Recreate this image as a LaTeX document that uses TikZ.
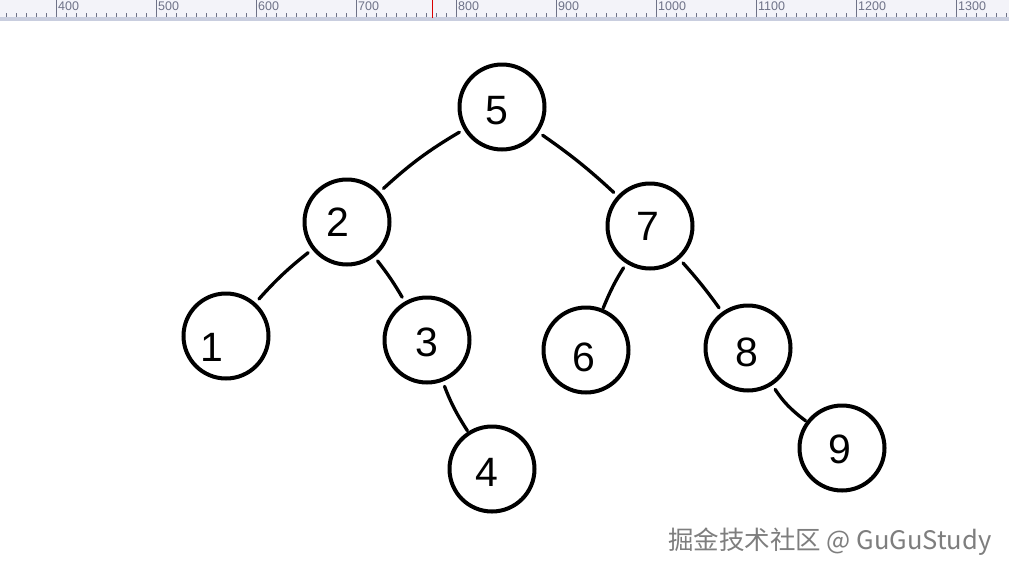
\documentclass[tikz,border=0pt]{standalone}
\usepackage{fontspec}
\setmainfont{Liberation Sans}
\newfontfamily\cjkfont{Noto Sans CJK SC}
\usetikzlibrary{calc}

\definecolor{rulerbg}{HTML}{F3F3F9}
\definecolor{rulerband}{HTML}{C9CEDF}
\definecolor{rulertick}{HTML}{6E7288}
\definecolor{marktxt}{HTML}{7E7E7E}

\begin{document}
\begin{tikzpicture}[x=1pt, y=-1pt,
	vtx/.style={draw, circle, line width=4pt, minimum size=85pt, inner sep=0pt},
	num/.style={font=\fontsize{41}{41}\selectfont},
	link/.style={line width=3.3pt, line cap=round, shorten <=5pt, shorten >=5pt},
	tick/.style={draw=rulertick, line width=0.8pt}]
	\useasboundingbox (0,0) rectangle (1009,574);
	\fill[white] (0,0) rectangle (1009,574);
	% ruler at the top
	\fill[rulerbg] (0,0) rectangle (1009,17);
	\fill[rulerband] (0,17) rectangle (1009,21);
	\foreach \i in {0,...,100}
		\draw[tick] (6+10*\i,13) -- (6+10*\i,17);
	\foreach \v [count=\k from 0] in {400,500,...,1300} {
		\draw[tick] (56+100*\k,0) -- (56+100*\k,17);
		\node[anchor=west, inner sep=1pt, text=rulertick, font=\fontsize{12.5}{12.5}\selectfont] at (57+100*\k,6) {\v};
	}
	\draw[red!85!black, line width=1pt] (432,0) -- (432,18);
	% tree nodes
	\node[vtx, label={[num, xshift=-5pt, yshift=-4pt]center:5}] (n5) at (502,107) {};
	\node[vtx, label={[num, xshift=-9pt]center:2}] (n2) at (347,222) {};
	\node[vtx, label={[num, xshift=-2pt]center:7}] (n7) at (650,226) {};
	\node[vtx, label={[num, xshift=-14pt, yshift=-11pt]center:1}] (n1) at (226,336) {};
	\node[vtx, label={[num, yshift=-2pt]center:3}] (n3) at (427,340) {};
	\node[vtx, label={[num, xshift=-2pt, yshift=-7pt]center:6}] (n6) at (586,350) {};
	\node[vtx, label={[num, xshift=-1pt, yshift=-4pt]center:8}] (n8) at (748,348) {};
	\node[vtx, label={[num, xshift=-5pt, yshift=-3pt]center:4}] (n4) at (492,469) {};
	\node[vtx, label={[num, xshift=-2pt, yshift=-1pt]center:9}] (n9) at (842,448) {};
	% links
	\draw[link] (n5) to[bend right=6] (n2);
	\draw[link] (n5) to[bend left=4] (n7);
	\draw[link] (n2) to[bend right=5] (n1);
	\draw[link] (n2) to[bend left=4] (n3);
	\draw[link, shorten >=1pt] (n7) to[bend right=5] (n6);
	\draw[link] (n7) to[bend left=3] (n8);
	\draw[link, shorten >=1pt] (n3) to[bend right=6] (n4);
	\draw[link, shorten >=1pt] (n8) to[bend right=10] (n9);
	% watermark
	\node[anchor=west, inner sep=0pt, text=marktxt, font=\cjkfont\fontsize{25.5}{25.5}\selectfont] (mark) at (668,542) {掘金技术社区 @ GuGuStudy};
\end{tikzpicture}
\end{document}
